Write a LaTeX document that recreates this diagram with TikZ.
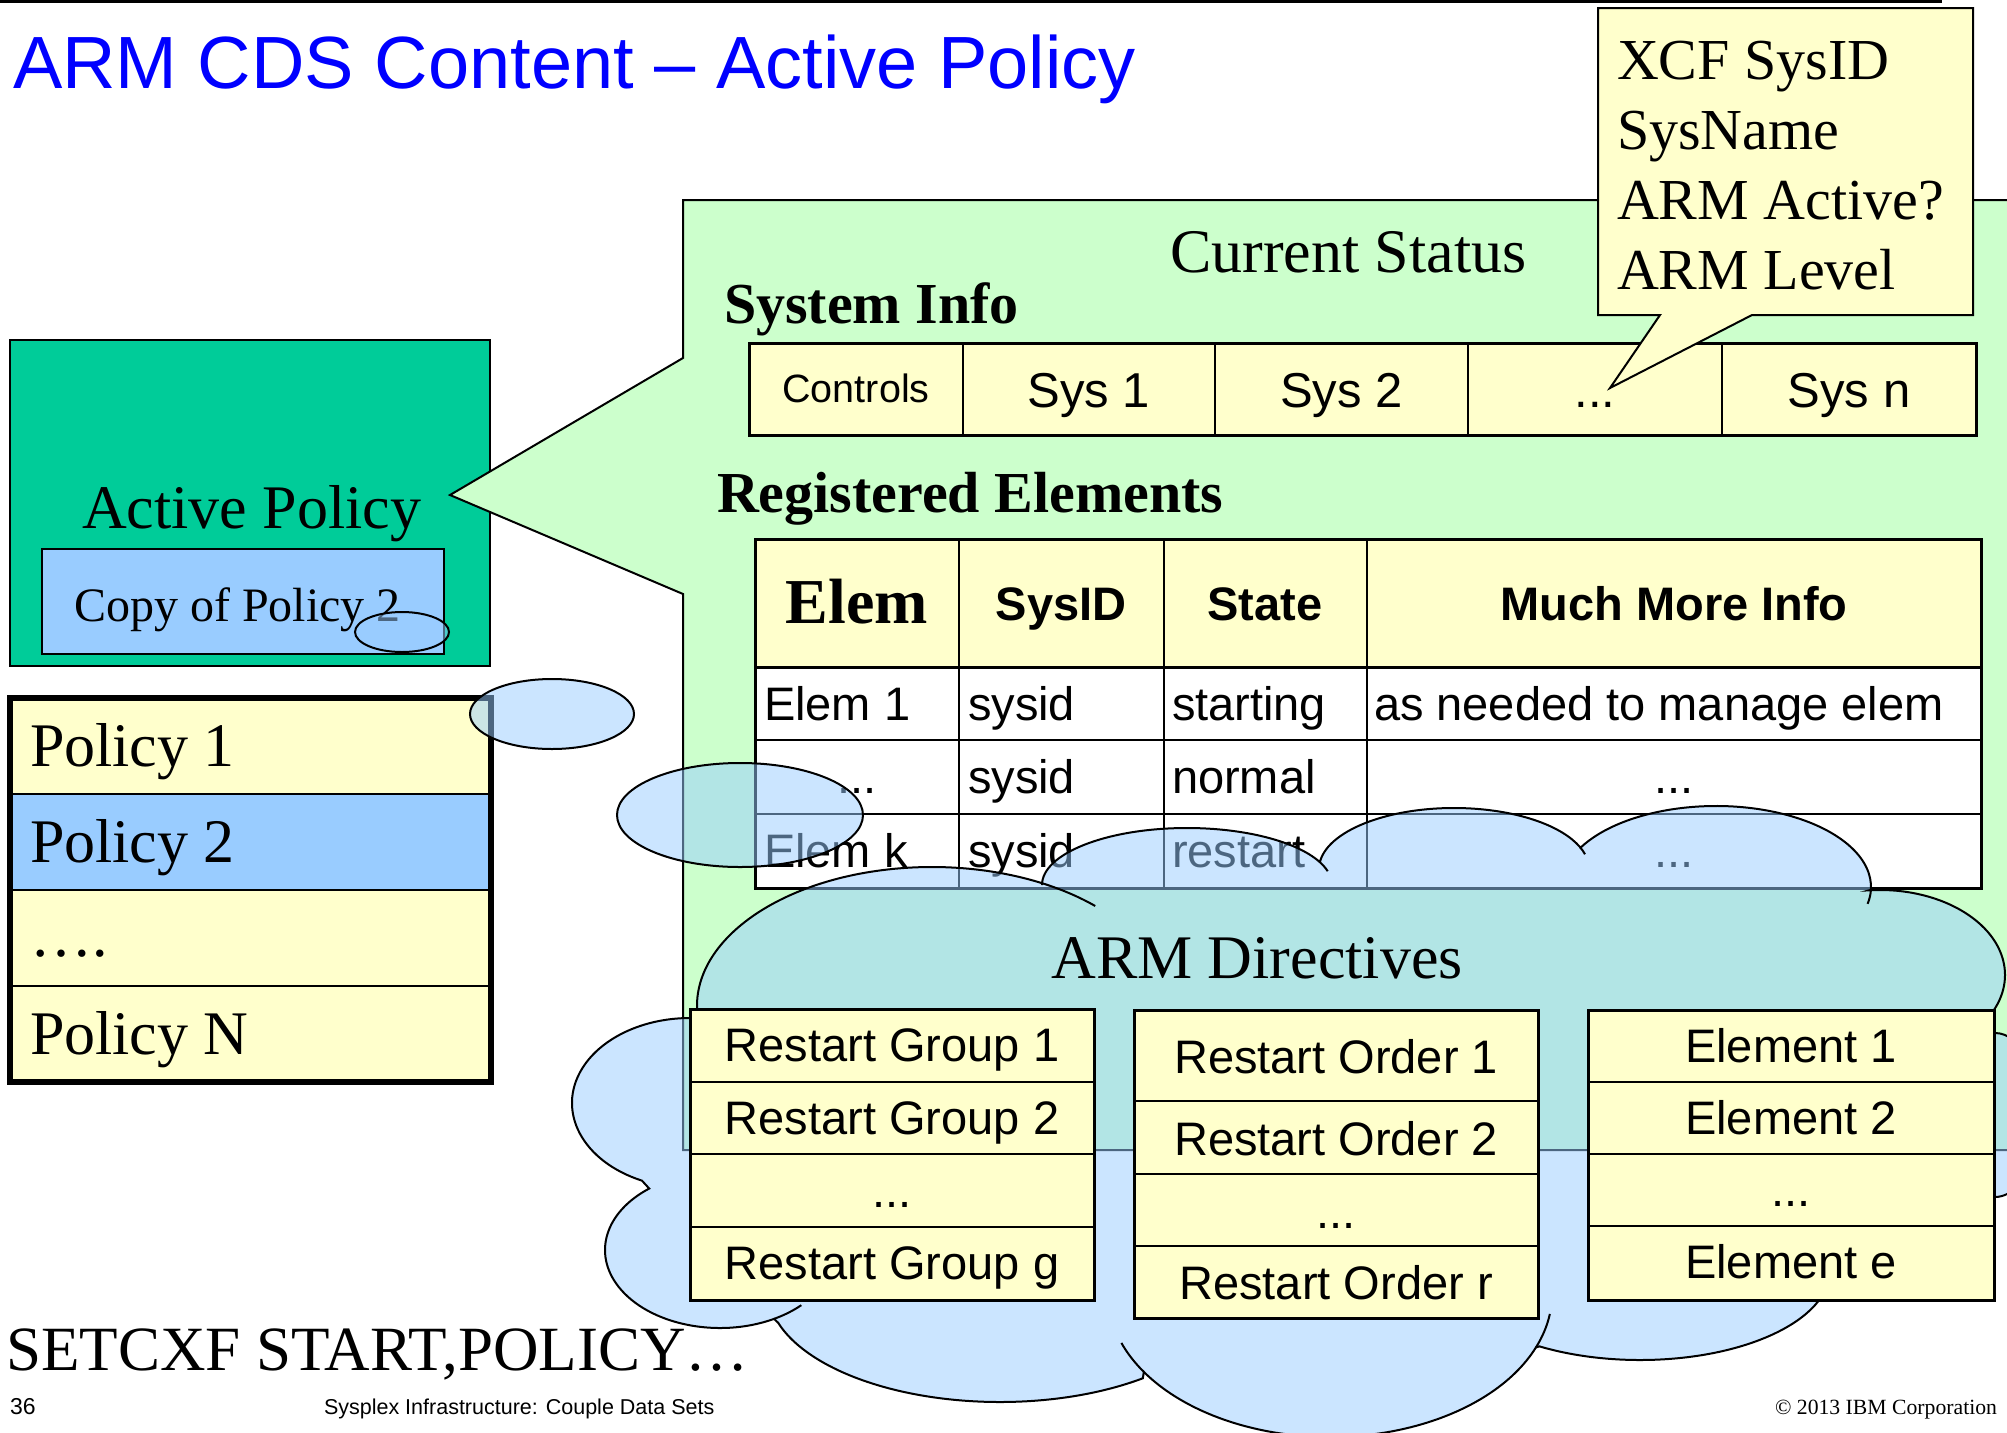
\documentclass[tikz,border=0pt]{standalone}
\usepackage{fontspec}
\setmainfont{Liberation Serif}
\setsansfont{Liberation Sans}
\usetikzlibrary{calc}
\definecolor{titleblue}{RGB}{0,0,255}
\definecolor{ylw}{RGB}{255,255,204}
\definecolor{actgreen}{RGB}{0,204,153}
\definecolor{lblue}{RGB}{153,204,255}
\definecolor{pgreen}{RGB}{204,255,204}
\newcommand{\fsz}[1]{\fontsize{#1}{#1}\selectfont}
\begin{document}
\begin{tikzpicture}[x=1pt,y=-1pt,
  lt/.style={inner sep=0pt,outer sep=0pt,anchor=base west},
  ct/.style={inner sep=0pt,outer sep=0pt,anchor=base},
  rt/.style={inner sep=0pt,outer sep=0pt,anchor=base east},
  tm/.style={font=\fsz{#1}\rmfamily},
  tmb/.style={font=\fsz{#1}\rmfamily\bfseries},
  ar/.style={font=\fsz{#1}\sffamily},
  arb/.style={font=\fsz{#1}\sffamily\bfseries},
  bubble/.style={fill=lblue,fill opacity=0.5,draw=black,line width=2pt},
  curl/.style={draw=black,line width=2pt},
  rowline/.style={line width=2.5pt}]
\useasboundingbox (0,0) rectangle (2007,1432);
\fill[white] (0,0) rectangle (2007,1432);

% top rule and title
\draw[line width=2.5pt] (0,1.5) -- (1942,1.5);
\node[lt,ar=74,text=titleblue] (title) at (13,88) {ARM CDS Content – Active Policy};

% Active policy box
\draw[fill=actgreen,line width=2pt] (10,340) rectangle (490,666);
\node[lt,tm=62] (actpol) at (82,528) {Active Policy};
\draw[fill=lblue,line width=2pt] (41.5,549) rectangle (444,654);
\node[lt,tm=48] (copypol) at (74,621) {Copy of Policy 2};

% policy list
\fill[ylw] (10,698) rectangle (491,794);
\fill[lblue] (10,794) rectangle (491,890);
\fill[ylw] (10,890) rectangle (491,1082);
\draw[rowline] (10,794) -- (491,794) (10,890) -- (491,890) (10,986) -- (491,986);
\draw[line width=5.5pt] (10,698) rectangle (491,1082);
\node[lt,tm=62] (pol1) at (30,766) {Policy 1};
\node[lt,tm=62] (pol2) at (30,862) {Policy 2};
\node[lt,tm=62] (poldots) at (30,956) {….};
\node[lt,tm=62] (polN) at (30,1054) {Policy N};

% current status panel
\draw[fill=pgreen,line width=2pt] (683,200) -- (2040,200) -- (2040,1150) -- (683,1150) -- (683,594) -- (450,495) -- (683,358) -- cycle;
\node[lt,tm=62] (curstat) at (1170,272) {Current Status};
\node[lt,tmb=58] (sysinfo) at (724,323) {System Info};

% system table
\fill[ylw] (749,343) rectangle (1976,435);
\draw[line width=2pt] (963,343) -- (963,435) (1215,343) -- (1215,435) (1468,343) -- (1468,435) (1722,343) -- (1722,435);
\draw[line width=3pt] (749,343) rectangle (1976,435);
\node[ct,ar=39.5] (controls) at (856,402) {Controls};
\node[ct,ar=49] (sys1) at (1089,407) {Sys 1};
\node[ct,ar=49] (sys2) at (1341.5,407) {Sys 2};
\node[ct,ar=49] (sysdots) at (1595,407) {...};
\node[ct,ar=49] (sysn) at (1849,407) {Sys n};

% registered elements
\node[lt,tmb=58] (regel) at (717,512) {Registered Elements};
\fill[ylw] (755,539) rectangle (1981,667);
\fill[white] (755,667) rectangle (1981,888);
\draw[rowline] (755,740) -- (1981,740) (755,814) -- (1981,814);
\draw[line width=3pt] (755,667) -- (1981,667);
\draw[line width=2pt] (959,539) -- (959,888) (1163.5,539) -- (1163.5,888) (1367,539) -- (1367,888);
\draw[line width=3pt] (755,539) rectangle (1981,888);
\node[ct,tmb=64] (hElem) at (857,623) {Elem};
\node[ct,arb=47] (hSysID) at (1061,620) {SysID};
\node[ct,arb=47] (hState) at (1265,620) {State};
\node[ct,arb=47] (hMore) at (1674,620) {Much More Info};
\node[lt,ar=47] (r1a) at (764,720) {Elem 1};
\node[lt,ar=47] (r1b) at (968,720) {sysid};
\node[lt,ar=47] (r1c) at (1172,720) {starting};
\node[lt,ar=47] (r1d) at (1374,720) {as needed to manage elem};
\node[ct,ar=47] (r2a) at (857,793) {...};
\node[lt,ar=47] (r2b) at (968,793) {sysid};
\node[lt,ar=47] (r2c) at (1172,793) {normal};
\node[ct,ar=47] (r2d) at (1674,793) {...};
\node[lt,ar=47] (r3a) at (764,867) {Elem k};
\node[lt,ar=47] (r3b) at (968,867) {sysid};
\node[lt,ar=47] (r3c) at (1172,867) {restart};
\node[ct,ar=47] (r3d) at (1674,867) {...};

% callout box
\draw[fill=ylw,line width=2pt] (1598,8) -- (1973,8) -- (1973,315) -- (1752,315) -- (1610,388) -- (1660,315) -- (1598,315) -- cycle;
\node[lt,tm=58] (xcf) at (1617,79) {XCF SysID};
\node[lt,tm=58] (sysname) at (1617,149) {SysName};
\node[lt,tm=58] (armact) at (1617,219) {ARM Active?};
\node[lt,tm=58] (armlev) at (1617,289) {ARM Level};

% thought bubbles
\path[bubble] (402,632) ellipse[x radius=47,y radius=20];
\path[bubble] (552,714) ellipse[x radius=82,y radius=35];
\path[bubble] (740,815) ellipse[x radius=123,y radius=52];

% cloud
\path[bubble] ($(690,1103)+(114:118 and 85)$) arc[start angle=114,end angle=274,x radius=118,y radius=85]
 -- ($(932,1006)+(175:235 and 139)$) arc[start angle=175,end angle=298,x radius=235,y radius=139]
 -- ($(1187,885)+(180:145 and 57)$) arc[start angle=180,end angle=336,x radius=145,y radius=57]
 -- ($(1454,869)+(187:135 and 61)$) arc[start angle=187,end angle=339,x radius=135,y radius=61]
 -- ($(1716,887)+(209:155 and 81)$) arc[start angle=209,end angle=362,x radius=155,y radius=81]
 -- ($(1880,975)+(265:125 and 85)$) arc[start angle=265,end angle=395,x radius=125,y radius=85]
 -- ($(1995,1115)+(265:45 and 82)$) arc[start angle=265,end angle=450,x radius=45,y radius=82]
 -- ($(1640,1270)+(0:190 and 90)$) arc[start angle=0,end angle=122,x radius=190,y radius=90]
 -- ($(1330,1294)+(22:222 and 143)$) arc[start angle=22,end angle=147,x radius=222,y radius=143]
 -- ($(1000,1290)+(52:232 and 112)$) arc[start angle=52,end angle=163,x radius=232,y radius=112]
 -- ($(720,1250)+(62:115 and 78)$) arc[start angle=62,end angle=232,x radius=115,y radius=78]
 -- cycle;
% cloud curls
\path[curl] ($(932,1006)+(298:235 and 139)$) arc[start angle=298,end angle=314,x radius=235,y radius=139];
\path[curl] ($(1187,885)+(336:145 and 57)$) arc[start angle=336,end angle=346,x radius=145,y radius=57];
\path[curl] ($(1454,869)+(339:135 and 61)$) arc[start angle=339,end angle=346,x radius=135,y radius=61];
\path[curl] ($(1716,887)+(362:155 and 81)$) arc[start angle=362,end angle=372,x radius=155,y radius=81];
\path[curl] ($(1330,1294)+(8:222 and 143)$) arc[start angle=8,end angle=22,x radius=222,y radius=143];
\path[curl] ($(1330,1294)+(147:222 and 143)$) arc[start angle=147,end angle=160,x radius=222,y radius=143];
\path[curl] ($(720,1250)+(45:115 and 78)$) arc[start angle=45,end angle=62,x radius=115,y radius=78];

% ARM directives
\node[ct,tm=62] (armdir) at (1257,978) {ARM Directives};
% restart groups
\fill[ylw] (690,1009) rectangle (1094,1300);
\draw[rowline] (690,1082) -- (1094,1082) (690,1154) -- (1094,1154) (690,1227) -- (1094,1227);
\draw[line width=3pt] (690,1009) rectangle (1094,1300);
\node[ct,ar=47] (rg1) at (892,1061) {Restart Group 1};
\node[ct,ar=47] (rg2) at (892,1134) {Restart Group 2};
\node[ct,ar=47] (rgd) at (892,1207) {...};
\node[ct,ar=47] (rgg) at (892,1279) {Restart Group g};
% restart orders
\fill[ylw] (1134,1010) rectangle (1538,1318);
\draw[rowline] (1134,1101) -- (1538,1101) (1134,1174) -- (1538,1174) (1134,1246) -- (1538,1246);
\draw[line width=3pt] (1134,1010) rectangle (1538,1318);
\node[ct,ar=47] (ro1) at (1336,1073) {Restart Order 1};
\node[ct,ar=47] (ro2) at (1336,1155) {Restart Order 2};
\node[ct,ar=47] (rod) at (1336,1228) {...};
\node[ct,ar=47] (ror) at (1336,1299) {Restart Order r};
% elements
\fill[ylw] (1588,1010) rectangle (1994,1300);
\draw[rowline] (1588,1082) -- (1994,1082) (1588,1154) -- (1994,1154) (1588,1226) -- (1994,1226);
\draw[line width=3pt] (1588,1010) rectangle (1994,1300);
\node[ct,ar=47] (el1) at (1791,1062) {Element 1};
\node[ct,ar=47] (el2) at (1791,1134) {Element 2};
\node[ct,ar=47] (eld) at (1791,1206) {...};
\node[ct,ar=47] (ele) at (1791,1278) {Element e};

% command and footer
\node[lt,tm=63] (setcxf) at (6,1370) {SETCXF START,POLICY…};
\node[lt,ar=23] (pagenum) at (10,1414) {36};
\node[lt,ar=21.5] (footer) at (324,1414) {Sysplex Infrastructure: Couple Data Sets};
\node[rt,tm=21.7] (copyr) at (1997,1414) {© 2013 IBM Corporation};
\end{tikzpicture}
\end{document}
